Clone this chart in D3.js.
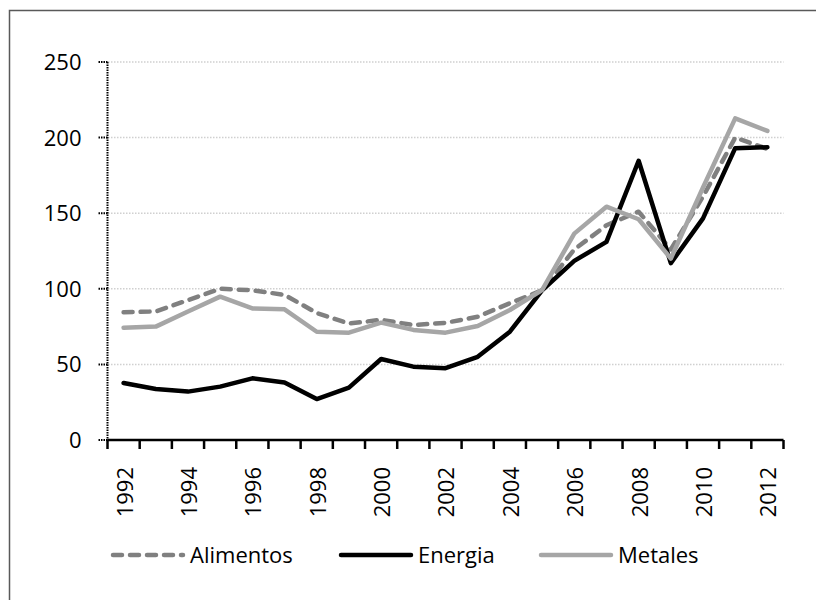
<!DOCTYPE html>
<html>
<meta charset="utf-8">
<head>
    <title>Índices de precios</title>
    <style>
    html, body {
        margin: 0;
        overflow: hidden;
        background: #fff;
        font-family: "Open Sans", "Liberation Sans", sans-serif;
    }
    svg { display: block; }
    </style>
<script src="https://d3js.org/d3.v7.min.js"></script>
</head>
<body>
<svg></svg>
<script>

var years = [1992, 1993, 1994, 1995, 1996, 1997, 1998, 1999, 2000, 2001, 2002,
             2003, 2004, 2005, 2006, 2007, 2008, 2009, 2010, 2011, 2012];

var alimentos = [84.5, 85, 92.5, 100, 99, 96, 84, 77, 79.5, 76, 77.5,
                 81.5, 90.5, 99, 126, 142, 151, 126, 161, 200, 192.5];
var energia   = [37.7, 33.7, 32, 35.3, 40.8, 38.1, 27.1, 34.6, 53.6, 48.5, 47.5,
                 55, 71.6, 99, 118.5, 131, 184.7, 117, 146.6, 193, 193.6];
var metales   = [74.3, 75, 85, 94.8, 87, 86.4, 71.6, 71, 77.6, 72.8, 71,
                 75.4, 86, 99.2, 136.5, 154.3, 146, 120, 167, 212.7, 204.4];

var yTicks = [0, 50, 100, 150, 200, 250];

var series = [
    {name: "Alimentos", values: alimentos, color: "#808080", dash: "9 8"},
    {name: "Energia",   values: energia,   color: "#000000", dash: null},
    {name: "Metales",   values: metales,   color: "#a6a6a6", dash: null}
];

var width = 816, height = 600;
var svg = d3.select("svg").attr("width", width).attr("height", height);

// chart frame: only top and left edges are inside the picture
svg.append("path")
    .attr("d", "M9.5," + height + "V10.5H" + width)
    .attr("fill", "none")
    .attr("stroke", "#595959")
    .attr("stroke-width", 1.5);

var x = d3.scaleBand()
    .domain(years)
    .range([107.5, 783.5]);

var y = d3.scaleLinear()
    .domain([0, 250])
    .range([440, 62]);

// gridlines
svg.append("g")
    .selectAll("line")
    .data(yTicks.filter(d => d > 0))
    .enter().append("line")
    .attr("x1", 108).attr("x2", 783.5)
    .attr("y1", d => y(d)).attr("y2", d => y(d))
    .attr("stroke", "#d0d0d0")
    .attr("stroke-width", 1.5)
    .attr("stroke-dasharray", "1.5 1.5");

// y axis (dotted)
var gy = svg.append("g").attr("transform", "translate(107.5,0)");
gy.append("line")
    .attr("x1", 0).attr("x2", 0)
    .attr("y1", y(250)).attr("y2", y(0))
    .attr("stroke", "#000")
    .attr("stroke-width", 2)
    .attr("stroke-dasharray", "1.5 1");
gy.selectAll(".tk")
    .data(yTicks)
    .enter().append("line")
    .attr("x1", -9).attr("x2", 0)
    .attr("y1", d => y(d)).attr("y2", d => y(d))
    .attr("stroke", "#000")
    .attr("stroke-width", 2)
    .attr("stroke-dasharray", "1.5 1");
gy.selectAll("text")
    .data(yTicks)
    .enter().append("text")
    .attr("x", -26)
    .attr("y", d => y(d))
    .attr("dy", "0.36em")
    .attr("text-anchor", "end")
    .attr("font-size", 22)
    .attr("fill", "#000")
    .text(d => d);

// x axis
var gx = svg.append("g").attr("transform", "translate(0," + y(0) + ")");
gx.append("line")
    .attr("x1", 107.5).attr("x2", 783.5)
    .attr("stroke", "#000")
    .attr("stroke-width", 2.5);
var tickPos = years.map(d => x(d)).concat([x.range()[1]]);
gx.selectAll(".tk")
    .data(tickPos)
    .enter().append("line")
    .attr("x1", d => d).attr("x2", d => d)
    .attr("y1", 0).attr("y2", 9)
    .attr("stroke", "#000")
    .attr("stroke-width", 2.5);
gx.selectAll("text")
    .data(years.filter((d, i) => i % 2 === 0))
    .enter().append("text")
    .attr("transform", d => "translate(" + (x(d) + x.bandwidth() / 2 + 1) + ",27) rotate(-90)")
    .attr("dy", "0.36em")
    .attr("text-anchor", "end")
    .attr("font-size", 22)
    .attr("fill", "#000")
    .text(d => d);

// lines
var line = d3.line()
    .x((d, i) => x(years[i]) + x.bandwidth() / 2)
    .y(d => y(d));

svg.append("g")
    .selectAll("path")
    .data(series)
    .enter().append("path")
    .attr("d", d => line(d.values))
    .attr("fill", "none")
    .attr("stroke", d => d.color)
    .attr("stroke-width", 4.5)
    .attr("stroke-linejoin", "round")
    .attr("stroke-linecap", "round")
    .attr("stroke-dasharray", d => d.dash);

// legend
var legX = [113, 341, 541];
var leg = svg.append("g")
    .selectAll("g")
    .data(series)
    .enter().append("g")
    .attr("transform", (d, i) => "translate(" + legX[i] + ",555)");
leg.append("line")
    .attr("x1", 0).attr("x2", 70)
    .attr("stroke", d => d.color)
    .attr("stroke-width", 4.5)
    .attr("stroke-linecap", "round")
    .attr("stroke-dasharray", d => d.dash);
leg.append("text")
    .attr("x", 77)
    .attr("dy", "0.36em")
    .attr("font-size", 22)
    .attr("fill", "#000")
    .text(d => d.name);

</script>
</body>
</html>
